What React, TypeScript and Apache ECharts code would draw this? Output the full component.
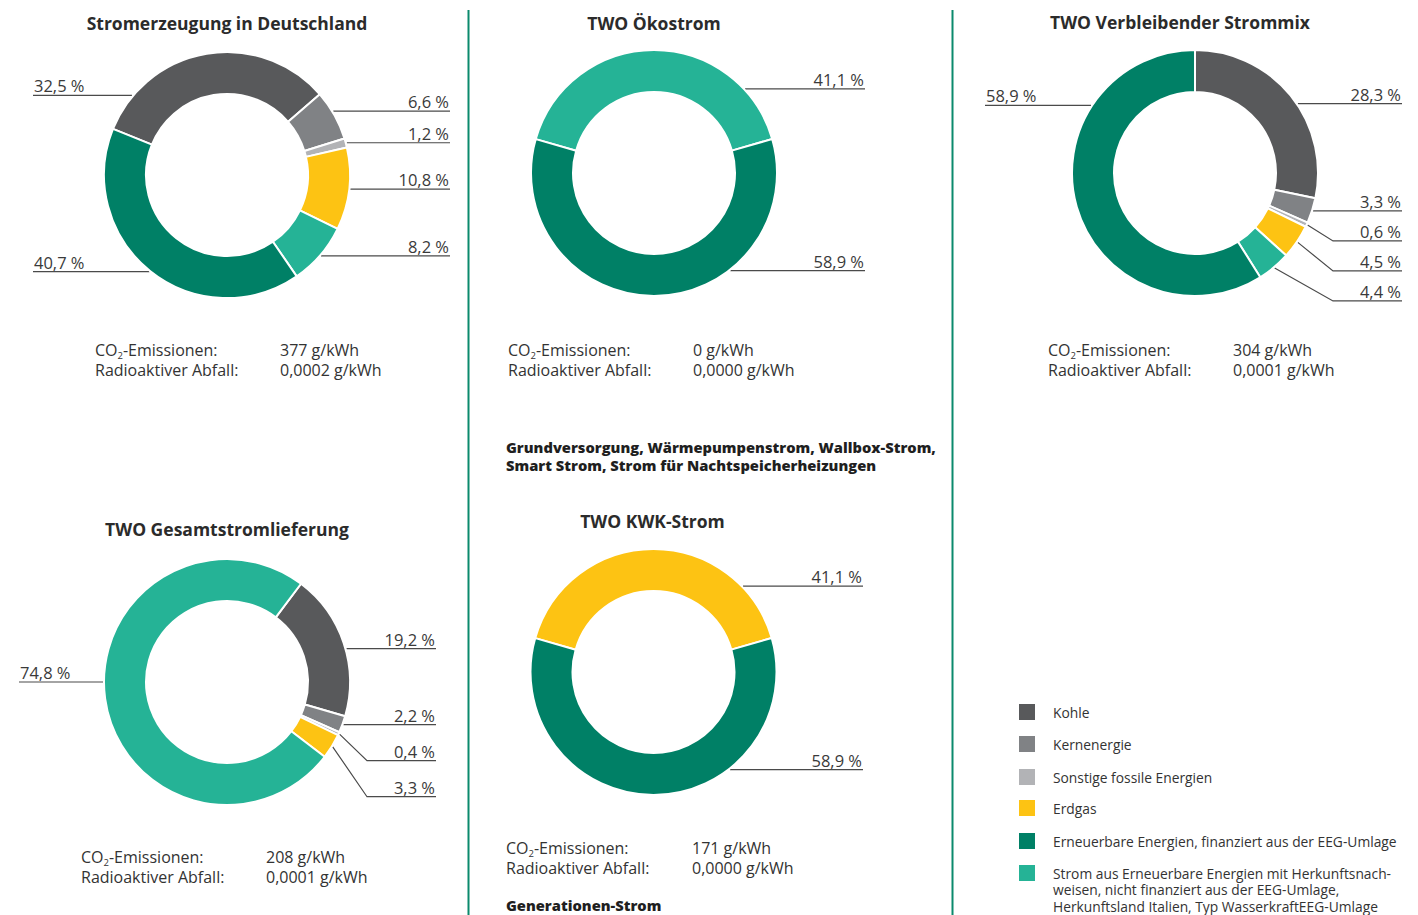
import React, { useEffect, useRef } from 'react';
import * as echarts from 'echarts';

// ---------- data ----------
const CATEGORIES = [
  'Kohle',
  'Kernenergie',
  'Sonstige fossile Energien',
  'Erdgas',
  'Erneuerbare Energien, finanziert aus der EEG-Umlage',
  'Strom aus Erneuerbare Energien mit Herkunftsnach-\nweisen, nicht finanziert aus der EEG-Umlage,\nHerkunftsland Italien, Typ WasserkraftEEG-Umlage',
];
const CATEGORY_COLORS = ['#58595b', '#808285', '#b2b3b6', '#fdc313', '#008066', '#25b396'];

const DE_CATS = [0, 1, 2, 3, 5, 4];
const DE_VALUES = [32.5, 6.6, 1.2, 10.8, 8.2, 40.7];
const OEKO_CATS = [5, 4];
const OEKO_VALUES = [41.1, 58.9];
const REST_CATS = [0, 1, 2, 3, 5, 4];
const REST_VALUES = [28.3, 3.3, 0.6, 4.5, 4.4, 58.9];
const GESAMT_CATS = [0, 1, 2, 3, 5];
const GESAMT_VALUES = [19.2, 2.2, 0.4, 3.3, 74.8];
const KWK_CATS = [3, 4];
const KWK_VALUES = [41.1, 58.9];

const TITLES = [
  'Stromerzeugung in Deutschland',
  'TWO Ökostrom',
  'TWO Verbleibender Strommix',
  'TWO Gesamtstromlieferung',
  'TWO KWK-Strom',
];
const CO2_VALUES = ['377 g/kWh', '0 g/kWh', '304 g/kWh', '208 g/kWh', '171 g/kWh'];
const WASTE_VALUES = ['0,0002 g/kWh', '0,0000 g/kWh', '0,0001 g/kWh', '0,0001 g/kWh', '0,0000 g/kWh'];
const INFO_LABELS = 'CO{s|2}-Emissionen:\nRadioaktiver Abfall:';
const HEADING_1 = 'Grundversorgung, Wärmepumpenstrom, Wallbox-Strom,\nSmart Strom, Strom für Nachtspeicherheizungen';
const HEADING_2 = 'Generationen-Strom';

const CHARTS = [
  { cats: DE_CATS, values: DE_VALUES },
  { cats: OEKO_CATS, values: OEKO_VALUES },
  { cats: REST_CATS, values: REST_VALUES },
  { cats: GESAMT_CATS, values: GESAMT_VALUES },
  { cats: KWK_CATS, values: KWK_VALUES },
];

// ---------- layout ----------
const FONT = '"Open Sans", Lato, sans-serif';
const R_IN = 81;
const R_OUT = 123;
const LAYOUT: any[] = [
  { cx: 227, cy: 175, start: 158, titleX: 227, titleY: 23, right: 450, left: 33, anchors: { 0: 140, 1: 31 }, gap: 25, infoX: 95, valX: 280, infoY: 340 },
  { cx: 654, cy: 173, start: 164, titleX: 654, titleY: 23, right: 865, left: 443, anchors: { 0: 42.7, 1: -52 }, gap: 30, infoX: 508, valX: 693, infoY: 340 },
  { cx: 1195, cy: 173, start: 90, titleX: 1180, titleY: 22, right: 1402, left: 985, anchors: { 0: 34, 5: 147 }, gap: 30, infoX: 1048, valX: 1233, infoY: 340 },
  { cx: 227, cy: 682, start: 53, titleX: 227, titleY: 529, right: 436, left: 19, anchors: { 0: 15.6, 4: 180 }, gap: 36, infoX: 81, valX: 266, infoY: 847 },
  { cx: 653.5, cy: 672, start: 164, titleX: 652.5, titleY: 521, right: 863, left: 443, anchors: { 0: 43.8, 1: -51.9 }, gap: 30, infoX: 506, valX: 692, infoY: 838 },
];

const fmtPct = (v: number) => v.toFixed(1).replace('.', ',') + ' %';

function computeLabels(values: number[], L: any) {
  const total = values.reduce((a, b) => a + b, 0);
  let cum = 0;
  const items = values.map((v, i) => {
    const a0 = L.start - (360 * cum) / total;
    cum += v;
    const mid = a0 - (360 * v) / 2 / total;
    const ang = L.anchors[i] != null ? L.anchors[i] : mid;
    const rad = (ang * Math.PI) / 180;
    return {
      i,
      ax: L.cx + (R_OUT + 1) * Math.cos(rad),
      ay: L.cy - (R_OUT + 1) * Math.sin(rad),
      side: Math.cos(rad) >= 0 ? 1 : -1,
    };
  });
  const out: any[] = [];
  [1, -1].forEach((side) => {
    const list = items.filter((it) => it.side === side).sort((a, b) => a.ay - b.ay);
    let prev = -Infinity;
    list.forEach((it) => {
      const lineY = Math.max(it.ay, prev + L.gap);
      prev = lineY;
      const edge = side > 0 ? L.right : L.left;
      const elbow = edge - side * 69;
      const points =
        lineY - it.ay < 1.5
          ? [[it.ax, lineY], [(it.ax + edge) / 2, lineY], [edge, lineY]]
          : [[it.ax, it.ay], [elbow, lineY], [edge, lineY]];
      out[it.i] = {
        x: edge - side * 1,
        y: lineY - 1,
        align: side > 0 ? 'right' : 'left',
        points,
      };
    });
  });
  return out;
}

function text(x: number, y: number, t: string, font: string, extra: any = {}) {
  return {
    type: 'text',
    x,
    y,
    silent: true,
    style: {
      text: t,
      font,
      fill: extra.fill || '#2f2f2f',
      textAlign: extra.align || 'left',
      align: extra.align || 'left',
      textVerticalAlign: extra.va || 'top',
      verticalAlign: extra.va || 'top',
      lineHeight: extra.lineHeight,
      rich: extra.rich,
    },
  };
}

export default function App() {
  const ref = useRef<HTMLDivElement>(null);
  useEffect(() => {
    document.body.style.margin = '0';
    if (!ref.current) return;
    const chart = echarts.init(ref.current, null, { renderer: 'svg' });

    const series = CHARTS.map((c, si) => {
      const L = LAYOUT[si];
      const labels = computeLabels(c.values, L);
      return {
        type: 'pie',
        center: [L.cx, L.cy],
        radius: [R_IN, R_OUT],
        startAngle: L.start,
        clockwise: true,
        avoidLabelOverlap: false,
        silent: true,
        emphasis: { disabled: true },
        itemStyle: { borderColor: '#ffffff', borderWidth: 2 },
        data: c.cats.map((ci, k) => ({
          name: CATEGORIES[ci],
          value: c.values[k],
          itemStyle: { color: CATEGORY_COLORS[ci] },
        })),
        label: {
          show: true,
          position: 'outside',
          formatter: (p: any) => fmtPct(p.value),
          fontFamily: FONT,
          fontSize: 16.5,
          lineHeight: 17,
          color: '#3a3a3a',
        },
        labelLine: {
          show: true,
          length: 5,
          length2: 5,
          lineStyle: { color: '#4a4a4a', width: 1.2 },
        },
        labelLayout: (p: any) => {
          const lb = labels[p.dataIndex];
          if (!lb) return {};
          return {
            x: lb.x,
            y: lb.y,
            align: lb.align,
            verticalAlign: 'bottom',
            labelLinePoints: lb.points,
          };
        },
      };
    });

    const graphic: any[] = [];
    // separators
    [468.5, 952.5].forEach((x) =>
      graphic.push({
        type: 'line',
        silent: true,
        shape: { x1: x, y1: 10, x2: x, y2: 915 },
        style: { stroke: '#0b8a6d', lineWidth: 2 },
      })
    );
    // titles + info blocks
    LAYOUT.forEach((L, i) => {
      graphic.push(text(L.titleX, L.titleY, TITLES[i], `bold 17.5px ${FONT}`, { align: 'center', va: 'middle', fill: '#2b2b2b' }));
      graphic.push(
        text(L.infoX, L.infoY, INFO_LABELS, `16px ${FONT}`, {
          lineHeight: 20,
          fill: '#333333',
          rich: { s: { fontSize: 9.5, lineHeight: 13, verticalAlign: 'bottom', fill: '#333333', fontFamily: FONT } },
        })
      );
      graphic.push(text(L.valX, L.infoY, CO2_VALUES[i] + '\n' + WASTE_VALUES[i], `16px ${FONT}`, { lineHeight: 20, fill: '#333333' }));
    });
    // headings
    graphic.push(text(506, 438, HEADING_1, `800 14.7px ${FONT}`, { lineHeight: 18, fill: '#1f1f1f' }));
    graphic.push(text(506, 896, HEADING_2, `800 14.7px ${FONT}`, { lineHeight: 18, fill: '#1f1f1f' }));
    // legend
    const legendRows = [712, 744, 777, 808, 841, 873];
    CATEGORIES.forEach((name, i) => {
      const cy = legendRows[i];
      graphic.push({
        type: 'rect',
        silent: true,
        shape: { x: 1019, y: cy - 8, width: 16, height: 16 },
        style: { fill: CATEGORY_COLORS[i] },
      });
      const lines = name.split('\n');
      lines.forEach((ln, k) => {
        graphic.push(text(1053, cy + k * 16.5, ln, `13.8px ${FONT}`, { va: 'middle', fill: '#333333' }));
      });
    });

    chart.setOption({ animation: false, series, graphic });
    return () => chart.dispose();
  }, []);
  return <div ref={ref} style={{ position: 'absolute', left: 0, top: 0, width: 1418, height: 915 }} />;
}
